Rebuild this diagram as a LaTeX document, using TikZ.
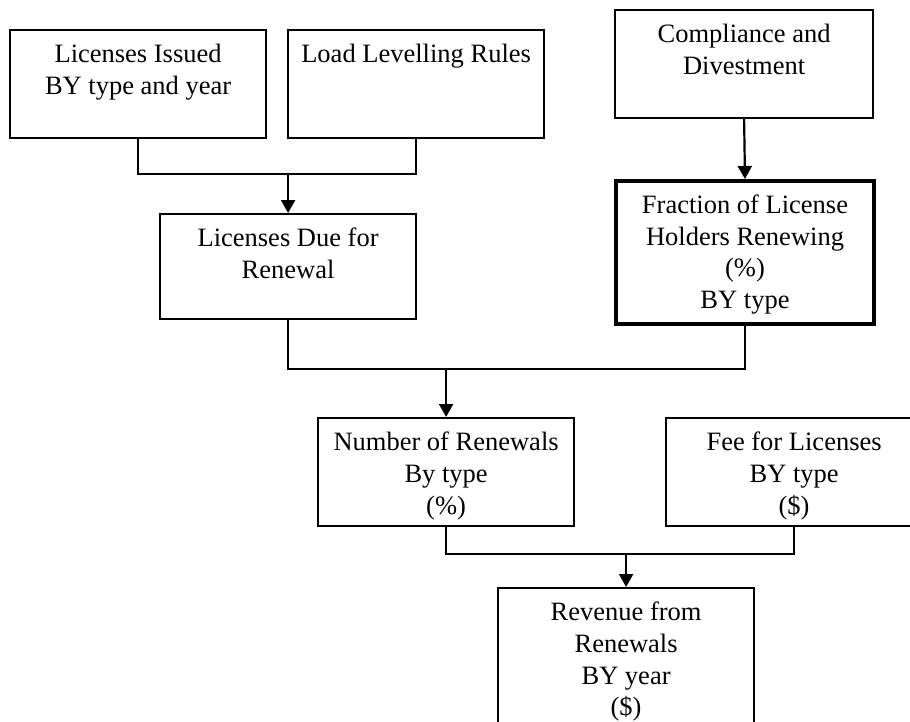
\documentclass[tikz,border=0pt]{standalone}
\usepackage{fontspec}
\setmainfont{Liberation Serif}
\usetikzlibrary{arrows.meta}

\tikzset{
  blk/.style 2 args={draw, line width=2.2pt, inner sep=0pt, anchor=north west,
    execute at begin node={\begin{minipage}[t][#2][t]{#1}%
      \fontsize{26.5pt}{31.7pt}\selectfont\centering\rule{0pt}{32.5pt}},
    execute at end node={\end{minipage}}},
  wire/.style={line width=2.2pt},
  arr/.style={wire, -{Triangle[width=14pt,length=13pt]}},
}

\begin{document}
\begin{tikzpicture}[x=1pt, y=-1pt]
  \useasboundingbox (0,0) rectangle (910,721);
  \clip (0,0) rectangle (910,721);

  % Top row
  \node[blk={256pt}{108pt}] (lic) at (9,29) {Licenses Issued\\BY type and year};
  \node[blk={256pt}{108pt}] (lvl) at (287,29) {Load Levelling Rules};
  \node[blk={258pt}{108pt}] (comp) at (614,9) {Compliance and\\Divestment};

  % Second row
  \node[blk={256pt}{105pt}] (due) at (159,213) {Licenses Due for\\Renewal};
  \node[blk={258pt}{143pt}, line width=4pt] (frac) at (614,179)
    {Fraction of License\\Holders Renewing\\(\%)\\BY type};

  % Third row
  \node[blk={256pt}{108pt}] (num) at (317,417) {Number of Renewals\\By type\\(\%)};
  \node[blk={256pt}{108pt}] (fee) at (665,417) {Fee for Licenses\\BY type\\(\$)};

  % Result
  \node[blk={256pt}{200pt}] (rev) at (497,587)
    {Revenue from\\Renewals\\BY year\\(\$)};

  % Junctions
  \path (due.north) ++(0,-39) coordinate (j1);
  \path (num.north) ++(0,-48) coordinate (j2);
  \path (rev.north) ++(0,-33) coordinate (j3);

  % Connectors
  \draw[wire] (lic.south) |- (j1) -| (lvl.south);
  \draw[arr] (j1) -- (due.north);
  \draw[arr] (comp.south) -- (frac.north);
  \draw[wire] (due.south) |- (j2) -| (frac.south);
  \draw[arr] (j2) -- (num.north);
  \draw[wire] (num.south) |- (j3) -| (fee.south);
  \draw[arr] (j3) -- (rev.north);
\end{tikzpicture}
\end{document}
